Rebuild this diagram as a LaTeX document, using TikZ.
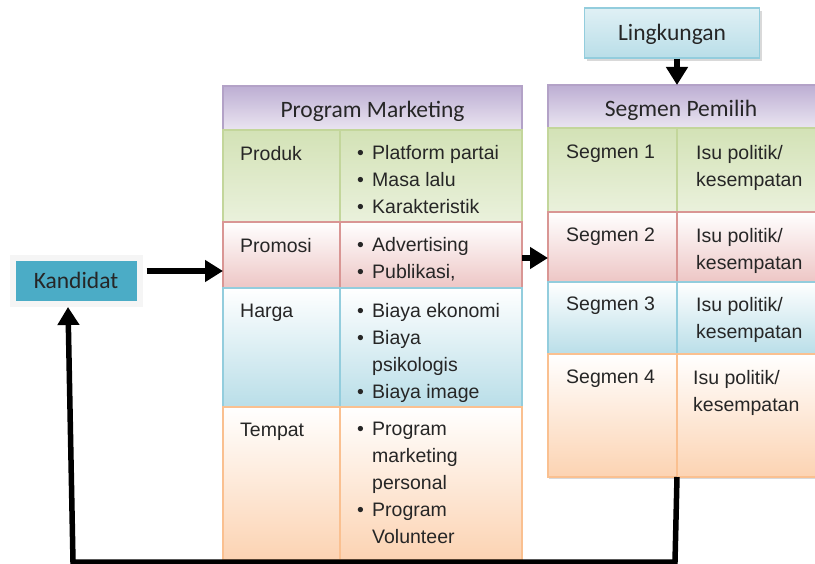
\documentclass[tikz,border=0pt]{standalone}
\usepackage{fontspec}
\setmainfont{Liberation Sans}
\newfontfamily\judul{Carlito}
\usetikzlibrary{positioning}
\usetikzlibrary{arrows.meta}
\usetikzlibrary{shadows}

\definecolor{unguTua}{HTML}{BDAED3}
\definecolor{unguMuda}{HTML}{EAE5F1}
\definecolor{unguGaris}{HTML}{B3A2C7}
\definecolor{hijau}{HTML}{D3E2B6}
\definecolor{hijauMuda}{HTML}{EAF1DC}
\definecolor{hijauGaris}{HTML}{C3D69B}
\definecolor{merah}{HTML}{EDC6C5}
\definecolor{merahGaris}{HTML}{D99694}
\definecolor{biru}{HTML}{B9DEE8}
\definecolor{biruGaris}{HTML}{93CDDD}
\definecolor{oranye}{HTML}{FCD3B2}
\definecolor{oranyeGaris}{HTML}{FAC090}
\definecolor{teal}{HTML}{4BACC6}

\newcommand{\butir}[1]{\makebox[15pt][l]{\textbullet}#1}
\newcommand{\lanjut}[1]{\hspace*{15pt}#1}

\begin{document}
\begin{tikzpicture}[x=1pt,y=-1pt]
			\tikzset{sel/.style = {shape=rectangle, line width=1.5pt, anchor=north west, inner sep=0pt, outer sep=0pt}}
			\tikzset{kepala/.style = {sel, draw=unguGaris, top color=unguTua, bottom color=unguMuda, font=\judul\fontsize{23.5}{26}\selectfont, text=black!85, text height=25pt, text depth=5pt}}
			\tikzset{hijauSel/.style = {sel, draw=hijauGaris, top color=hijau, bottom color=hijauMuda}}
			\tikzset{merahSel/.style = {sel, draw=merahGaris, top color=white, bottom color=merah}}
			\tikzset{biruSel/.style = {sel, draw=biruGaris, top color=white, bottom color=biru}}
			\tikzset{oranyeSel/.style = {sel, draw=oranyeGaris, top color=white, bottom color=oranye}}
			\tikzset{isi/.style = {inner sep=0pt, align=left, font=\fontsize{19.5}{27}\selectfont, text=black!85}}
			\tikzset{panah/.style = {line width=5.5pt, -{Triangle[length=18pt,width=21pt]}}}
			
			\useasboundingbox (0,0) rectangle (815,564);
			
			\node[shape=rectangle, fill=teal, draw=black!4, line width=6pt, minimum width=127pt, minimum height=46pt,
			drop shadow={shadow xshift=2pt, shadow yshift=-3pt, opacity=0.35},
			font=\judul\fontsize{23.5}{26}\selectfont, text=black!85, text height=20pt, text depth=5pt] (kandidat) at (76,281) {Kandidat};
			
			\node[shape=rectangle, line width=1.5pt, draw=biruGaris, top color=biru!45, bottom color=biru,
			drop shadow={shadow xshift=2pt, shadow yshift=-3pt, opacity=0.3},
			minimum width=175pt, minimum height=50pt,
			font=\judul\fontsize{23.5}{26}\selectfont, text=black!85, text height=21pt, text depth=5pt] (lingkungan) at (672,33) {Lingkungan};
			
			% Program Marketing
			\node[kepala, minimum width=299pt, minimum height=44pt] (PM) at (223,86) {Program Marketing};
			\node[hijauSel, minimum width=117pt, minimum height=92pt] (produk) at (PM.south west) {};
			\node[hijauSel, minimum width=182pt, minimum height=92pt] (produkIsi) at (produk.north east) {};
			\node[merahSel, minimum width=117pt, minimum height=66pt] (promosi) at (produk.south west) {};
			\node[merahSel, minimum width=182pt, minimum height=66pt] (promosiIsi) at (promosi.north east) {};
			\node[biruSel, minimum width=117pt, minimum height=119pt] (harga) at (promosi.south west) {};
			\node[biruSel, minimum width=182pt, minimum height=119pt] (hargaIsi) at (harga.north east) {};
			\node[oranyeSel, minimum width=117pt, minimum height=153pt] (tempat) at (harga.south west) {};
			\node[oranyeSel, minimum width=182pt, minimum height=153pt] (tempatIsi) at (tempat.north east) {};
			
			\node[isi, below right=16pt and 17pt of produk.north west] (tProduk) {Produk};
			\node[isi, below right=15pt and 17pt of produkIsi.north west] (tProdukIsi)
			{\butir{Platform partai}\\ \butir{Masa lalu}\\ \butir{Karakteristik}};
			\node[isi, below right=16pt and 17pt of promosi.north west] (tPromosi) {Promosi};
			\node[isi, below right=15pt and 17pt of promosiIsi.north west] (tPromosiIsi)
			{\butir{Advertising}\\ \butir{Publikasi,}};
			\node[isi, below right=16pt and 17pt of harga.north west] (tHarga) {Harga};
			\node[isi, below right=15pt and 17pt of hargaIsi.north west] (tHargaIsi)
			{\butir{Biaya ekonomi}\\ \butir{Biaya}\\ \lanjut{psikologis}\\ \butir{Biaya image}};
			\node[isi, below right=16pt and 17pt of tempat.north west] (tTempat) {Tempat};
			\node[isi, below right=15pt and 17pt of tempatIsi.north west] (tTempatIsi)
			{\butir{Program}\\ \lanjut{marketing}\\ \lanjut{personal}\\ \butir{Program}\\ \lanjut{Volunteer}};
			
			% Segmen Pemilih
			\node[kepala, minimum width=270pt, minimum height=43pt] (SP) at (548,85) {\hspace*{-2pt}Segmen Pemilih\hspace*{2pt}};
			\node[hijauSel, minimum width=129pt, minimum height=84pt] (seg1) at (SP.south west) {};
			\node[hijauSel, minimum width=141pt, minimum height=84pt] (isu1) at (seg1.north east) {};
			\node[merahSel, minimum width=129pt, minimum height=70pt] (seg2) at (seg1.south west) {};
			\node[merahSel, minimum width=141pt, minimum height=70pt] (isu2) at (seg2.north east) {};
			\node[biruSel, minimum width=129pt, minimum height=72pt] (seg3) at (seg2.south west) {};
			\node[biruSel, minimum width=141pt, minimum height=72pt] (isu3) at (seg3.north east) {};
			\node[oranyeSel, minimum width=129pt, minimum height=123pt,
			drop shadow={shadow xshift=1pt, shadow yshift=-2pt, opacity=0.3}] (seg4) at (seg3.south west) {};
			\node[oranyeSel, minimum width=141pt, minimum height=123pt,
			drop shadow={shadow xshift=1pt, shadow yshift=-2pt, opacity=0.3}] (isu4) at (seg4.north east) {};
			
			\node[isi, below right=17pt and 18pt of seg1.north west] (tSeg1) {Segmen 1};
			\node[isi, below right=17pt and 19pt of isu1.north west] (tIsu1) {Isu politik/\\kesempatan};
			\node[isi, below right=16pt and 18pt of seg2.north west] (tSeg2) {Segmen 2};
			\node[isi, below right=16pt and 19pt of isu2.north west] (tIsu2) {Isu politik/\\kesempatan};
			\node[isi, below right=15pt and 18pt of seg3.north west] (tSeg3) {Segmen 3};
			\node[isi, below right=15pt and 19pt of isu3.north west] (tIsu3) {Isu politik/\\kesempatan};
			\node[isi, below right=16pt and 18pt of seg4.north west] (tSeg4) {Segmen 4};
			\node[isi, below right=16pt and 16pt of isu4.north west] (tIsu4) {Isu politik/\\kesempatan};
			
			% panah
			\coordinate (pk) at ([yshift=10pt]kandidat.east);
			\draw[panah] ([xshift=4pt]pk) -- (pk -| promosi.west);
			\coordinate (pa) at ([yshift=-3pt]promosiIsi.east);
			\draw[panah] (pa) -- (pa -| seg2.west);
			\draw[panah] (lingkungan.south -| seg1.north east) -- (SP.north -| seg1.north east);
			
			\coordinate (sudutKanan) at (675,562);
			\coordinate (sudutKiri) at (73,562);
			\path (kandidat.south) ++(-8pt,0pt) coordinate (ujungKiri);
			\draw[panah] (seg4.south east) -- (sudutKanan) -- (sudutKiri) -- (ujungKiri);
			
\end{tikzpicture}
\end{document}
